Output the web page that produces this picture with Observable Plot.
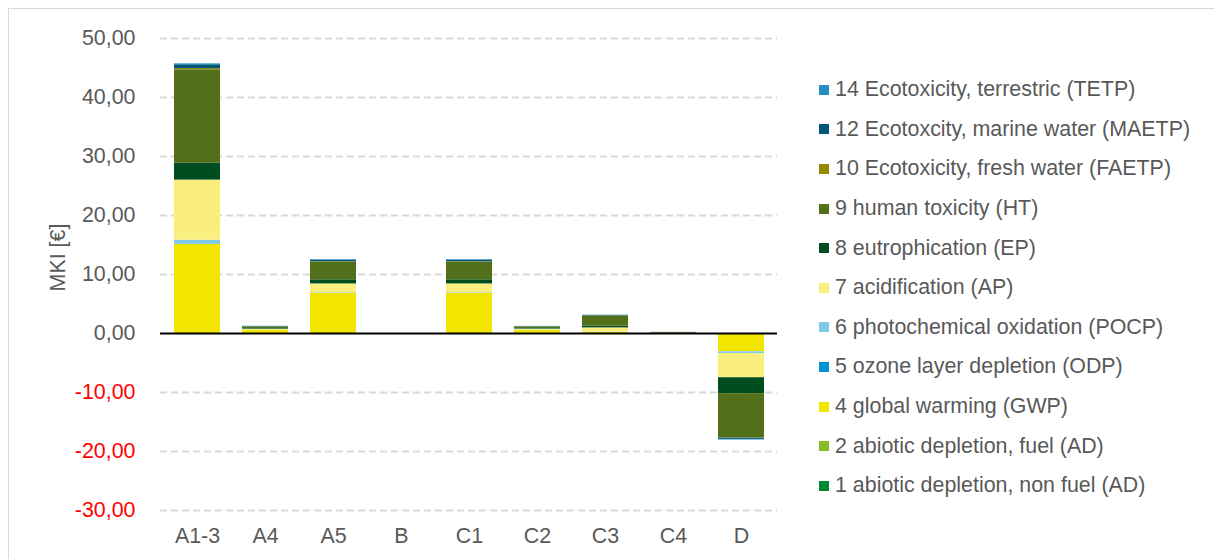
<!DOCTYPE html>
<html>
<head>
<meta charset="utf-8">
<script src="https://cdn.jsdelivr.net/npm/d3@7"></script>
<script src="https://cdn.jsdelivr.net/npm/@observablehq/plot@0.6"></script>
<style>
  html, body { margin: 0; padding: 0; background: #fff; }
  body { width: 1214px; height: 559px; position: relative; overflow: hidden; font-family: "Liberation Sans", Arial, sans-serif; }
  #frame { position: absolute; left: 8px; top: 8px; width: 1210px; height: 560px; border: 1px solid #d9d9d9; box-sizing: border-box; }
  #chart { position: absolute; left: 0; top: 0; }
  #legend { position: absolute; left: 819px; top: 70px; }
  .item { height: 39.6px; display: flex; align-items: center; font-size: 21.4px; color: #595959; white-space: nowrap; }
  .sw { width: 10px; height: 10px; margin-right: 6px; flex: none; }
</style>
</head>
<body>
<div id="frame"></div>
<div id="chart"></div>
<div id="legend"></div>
<script>
// Categories (life-cycle stages)
const categories = ["A1-3", "A4", "A5", "B", "C1", "C2", "C3", "C4", "D"];

// Series in stacking order (bottom first)
const seriesNames = [
  "1 abiotic depletion, non fuel (AD)",
  "2 abiotic depletion, fuel (AD)",
  "4 global warming (GWP)",
  "5 ozone layer depletion (ODP)",
  "6 photochemical oxidation (POCP)",
  "7 acidification (AP)",
  "8 eutrophication (EP)",
  "9 human toxicity (HT)",
  "10 Ecotoxicity, fresh water (FAETP)",
  "12 Ecotoxcity, marine water (MAETP)",
  "14 Ecotoxicity, terrestric (TETP)"
];
const seriesColors = [
  "#008838", "#86bc25", "#f2e500", "#0094d3", "#7ecbe8",
  "#faef7e", "#014d20", "#52701a", "#938a00", "#005778", "#2190c0"
];

// Values per series, one per category (MKI in €)
const adNonFuel = [0, 0, 0, 0, 0, 0, 0, 0, 0];
const adFuel    = [0, 0, 0, 0, 0, 0, 0, 0, 0];
const gwp       = [15.1, 0.5, 6.8, 0, 6.8, 0.5, 0.2, 0.02, -3.1];
const odp       = [0, 0, 0, 0, 0, 0, 0, 0, 0];
const pocp      = [0.7, 0.03, 0.1, 0, 0.1, 0.05, 0.05, 0, -0.3];
const ap        = [10.2, 0.15, 1.5, 0, 1.5, 0.2, 0.7, 0.03, -4.1];
const ep        = [2.9, 0.1, 0.7, 0, 0.7, 0.1, 0.3, 0.02, -2.7];
const ht        = [15.8, 0.3, 3.0, 0, 3.0, 0.25, 1.7, 0.1, -7.5];
const faetp     = [0.2, 0.02, 0.05, 0, 0.05, 0.02, 0.02, 0, -0.05];
const maetp     = [0.65, 0.08, 0.3, 0, 0.3, 0.05, 0.1, 0.02, -0.2];
const tetp      = [0.15, 0.04, 0.05, 0, 0.05, 0.03, 0.03, 0, -0.1];

const seriesValues = [adNonFuel, adFuel, gwp, odp, pocp, ap, ep, ht, faetp, maetp, tetp];

const yTicks = [-30, -20, -10, 0, 10, 20, 30, 40, 50];
const yLabel = "MKI [€]";

const data = [];
seriesNames.forEach((s, i) => {
  categories.forEach((c, j) => data.push({series: s, cat: c, value: seriesValues[i][j]}));
});

const fmt = d => d.toFixed(2).replace(".", ",");

const chart = Plot.plot({
  width: 1214,
  height: 559,
  marginTop: 38,
  marginBottom: 49,
  marginLeft: 160,
  marginRight: 437,
  style: {fontFamily: "'Liberation Sans', Arial, sans-serif", fontSize: "21.4px", background: "transparent"},
  x: {domain: categories, paddingInner: 0.33, paddingOuter: 0.165, label: null},
  y: {domain: [-30, 50], label: null},
  color: {domain: seriesNames, range: seriesColors},
  marks: [
    Plot.gridY(yTicks.filter(d => d !== 0), {stroke: "#d9d9d9", strokeOpacity: 1, strokeWidth: 2, strokeDasharray: "7,4"}),
    Plot.barY(data, {x: "cat", y: "value", fill: "series"}),
    Plot.ruleY([0], {stroke: "#000", strokeWidth: 2.2}),
    Plot.axisY(yTicks.filter(d => d >= 0), {tickSize: 0, tickPadding: 25, tickFormat: fmt, fill: "#595959", label: null}),
    Plot.axisY(yTicks.filter(d => d < 0), {tickSize: 0, tickPadding: 25, tickFormat: fmt, fill: "#ff0000", label: null}),
    Plot.axisX({tickSize: 0, tickPadding: 17, fill: "#595959", label: null}),
    Plot.text([yLabel], {frameAnchor: "left", textAnchor: "middle", dx: -102, dy: -17, rotate: -90, fill: "#595959", text: d => d})
  ]
});
document.getElementById("chart").appendChild(chart);

// Legend (top to bottom = reverse stacking order)
const legend = document.getElementById("legend");
for (let i = seriesNames.length - 1; i >= 0; i--) {
  const row = document.createElement("div");
  row.className = "item";
  const sw = document.createElement("span");
  sw.className = "sw";
  sw.style.background = seriesColors[i];
  const t = document.createElement("span");
  t.textContent = seriesNames[i];
  row.appendChild(sw);
  row.appendChild(t);
  legend.appendChild(row);
}
</script>
</body>
</html>
